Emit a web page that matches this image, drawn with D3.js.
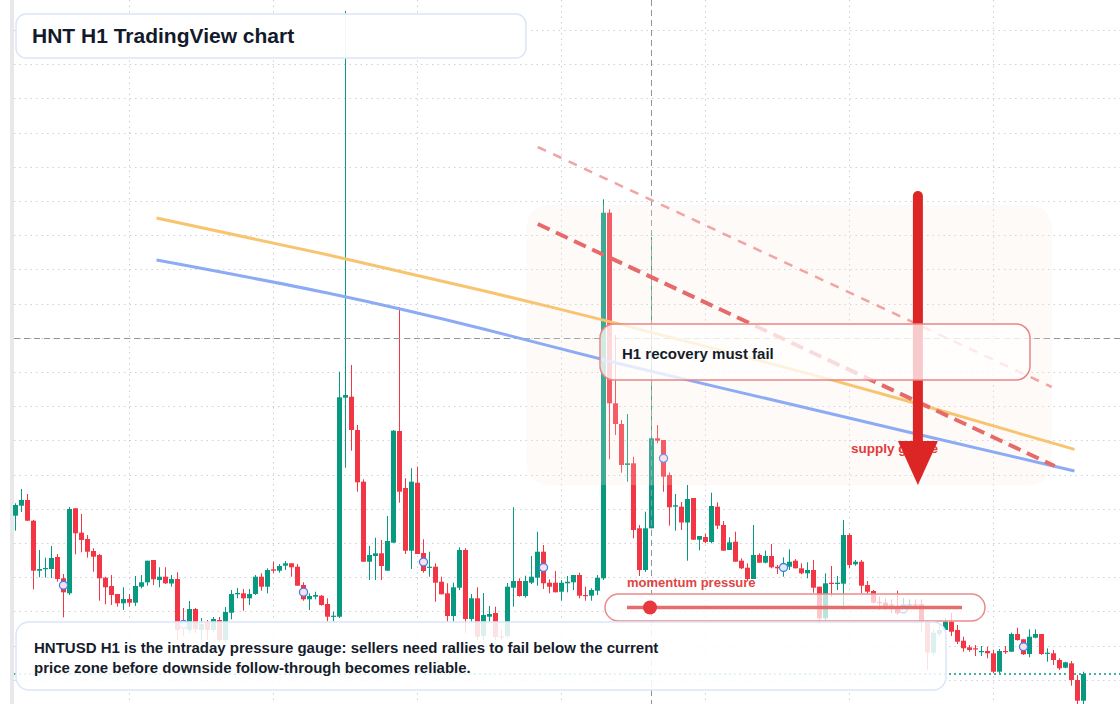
<!DOCTYPE html>
<html><head><meta charset="utf-8">
<script src="https://cdn.jsdelivr.net/npm/d3@7"></script>
<style>html,body{margin:0;padding:0;background:#fff;overflow:hidden}svg{display:block;font-family:"Liberation Sans",Arial,Helvetica,sans-serif}</style>
</head><body><svg id="chart" width="1120" height="704"></svg>
<script>
// ---- HNTUSD H1 candles ----
const opens = [1.6883,1.6983,1.704,1.6833,1.6333,1.635,1.635,1.647,1.6257,1.6107,1.6957,1.6713,1.665,1.653,1.649,1.6263,1.618,1.610,1.6007,1.605,
1.6013,1.6173,1.6217,1.644,1.624,1.6273,1.6205,1.625,1.583,1.574,1.595,1.574,1.582,1.574,1.584,1.564,1.5913,1.6097,1.6107,1.6057,
1.610,1.6273,1.6173,1.6347,1.6333,1.6383,1.6407,1.6373,1.619,1.6047,1.6073,1.6083,1.600,1.5873,1.5873,1.8063,1.8073,1.774,1.7223,1.6423,
1.648,1.6507,1.6333,1.6613,1.773,1.716,1.6533,1.7213,1.651,1.6363,1.6373,1.6223,1.6107,1.588,1.6163,1.654,1.585,1.6057,1.568,1.5873,
1.591,1.5677,1.568,1.6163,1.623,1.608,1.6213,1.6263,1.6523,1.6213,1.6213,1.6123,1.6207,1.6217,1.629,1.609,1.6083,1.6133,1.6257,1.9913,
1.8007,1.780,1.739,1.7407,1.6757,1.634,1.6757,1.7657,1.764,1.729,1.6973,1.6973,1.6815,1.706,1.6643,1.667,1.662,1.6973,1.679,1.654,
1.6623,1.6433,1.6363,1.625,1.649,1.6413,1.648,1.6373,1.633,1.6373,1.6433,1.6357,1.6307,1.634,1.6173,1.5857,1.6213,1.620,1.6203,1.669,
1.6397,1.6423,1.619,1.613,1.602,1.6013,1.5995,1.5973,1.592,1.5987,1.5997,1.5997,1.5823,1.5513,1.570,1.574,1.5823,1.574,1.5633,1.5567,
1.5557,1.552,1.553,1.5507,1.5323,1.553,1.5523,1.570,1.5647,1.550,1.5663,1.570,1.5503,1.5507,1.544,1.5363,1.5407,1.524,1.5033];
const highs = [1.7007,1.715,1.710,1.684,1.654,1.6463,1.658,1.650,1.630,1.697,1.696,1.690,1.669,1.6557,1.650,1.6273,1.629,1.610,1.6167,1.610,
1.628,1.629,1.6433,1.644,1.6367,1.6367,1.629,1.6317,1.596,1.603,1.596,1.586,1.584,1.587,1.587,1.597,1.614,1.616,1.615,1.615,
1.629,1.6307,1.6357,1.6423,1.640,1.643,1.6407,1.640,1.6217,1.6107,1.6123,1.609,1.6057,1.5923,1.8323,2.193,1.839,1.779,1.7247,1.658,
1.6663,1.664,1.688,1.774,1.8967,1.7257,1.7357,1.7373,1.6647,1.6523,1.6407,1.6273,1.6207,1.6213,1.6567,1.6557,1.610,1.6167,1.611,1.598,
1.5973,1.574,1.621,1.6967,1.6257,1.6283,1.648,1.6723,1.659,1.6247,1.633,1.624,1.628,1.629,1.6313,1.6173,1.6157,1.629,2.0047,1.9947,
1.869,1.784,1.790,1.7473,1.679,1.6923,1.967,1.779,1.764,1.7315,1.710,1.702,1.719,1.706,1.668,1.6705,1.7113,1.7017,1.683,1.6667,
1.6723,1.6457,1.6407,1.679,1.6507,1.6533,1.660,1.639,1.6467,1.6547,1.645,1.6407,1.6417,1.644,1.6173,1.6307,1.638,1.628,1.684,1.6707,
1.644,1.644,1.623,1.614,1.6073,1.6057,1.6047,1.6133,1.606,1.6047,1.6047,1.6047,1.584,1.5747,1.581,1.5857,1.591,1.579,1.5673,1.559,
1.559,1.558,1.5573,1.554,1.555,1.558,1.5713,1.5763,1.5647,1.5747,1.5747,1.570,1.5557,1.554,1.5457,1.5423,1.543,1.529,1.5323];
const lows = [1.6733,1.692,1.683,1.6147,1.6267,1.6263,1.626,1.6223,1.5867,1.609,1.6497,1.6517,1.6463,1.6323,1.6033,1.5997,1.599,1.5973,1.594,1.5973,
1.598,1.6157,1.6183,1.619,1.6167,1.620,1.6173,1.564,1.568,1.571,1.571,1.564,1.564,1.572,1.562,1.562,1.5847,1.6057,1.5933,1.599,
1.609,1.6133,1.6107,1.6307,1.6313,1.634,1.6273,1.6183,1.6033,1.594,1.6047,1.5983,1.5823,1.5823,1.586,1.7363,1.7533,1.7123,1.6423,1.624,
1.624,1.624,1.6333,1.6613,1.7013,1.650,1.635,1.650,1.6313,1.6273,1.6023,1.6097,1.5823,1.5823,1.614,1.5707,1.5823,1.564,1.564,1.5823,
1.564,1.564,1.566,1.5973,1.6073,1.6063,1.620,1.6183,1.615,1.6107,1.6117,1.6033,1.6117,1.614,1.6057,1.6033,1.6033,1.609,1.624,1.7447,
1.769,1.7313,1.7223,1.6657,1.628,1.632,1.6757,1.7607,1.7123,1.6783,1.6733,1.674,1.6433,1.664,1.6537,1.6607,1.6607,1.675,1.6533,1.654,
1.6423,1.635,1.6233,1.625,1.6413,1.6407,1.6357,1.630,1.6273,1.634,1.6357,1.6297,1.6257,1.6113,1.5797,1.584,1.6073,1.614,1.594,1.6357,
1.6383,1.6107,1.6107,1.6007,1.594,1.594,1.5907,1.589,1.5907,1.5957,1.5957,1.5723,1.534,1.549,1.568,1.572,1.568,1.560,1.5523,1.5523,
1.548,1.548,1.5457,1.5307,1.5307,1.550,1.5523,1.5633,1.549,1.5467,1.5657,1.549,1.5423,1.539,1.534,1.5357,1.5183,1.500,1.500];
const closes = [1.699,1.704,1.6833,1.6333,1.635,1.636,1.646,1.625,1.6117,1.695,1.6707,1.664,1.6523,1.6473,1.6257,1.6167,1.609,1.6007,1.605,1.6013,
1.618,1.6217,1.6433,1.6247,1.6273,1.6207,1.625,1.574,1.576,1.595,1.575,1.580,1.574,1.585,1.564,1.592,1.610,1.611,1.6057,1.610,
1.6273,1.6173,1.634,1.6333,1.638,1.6407,1.6367,1.6183,1.6047,1.608,1.609,1.599,1.5873,1.5883,1.8067,1.809,1.774,1.7217,1.6423,1.649,
1.6507,1.638,1.663,1.7733,1.7123,1.6533,1.7223,1.650,1.633,1.6373,1.6213,1.6097,1.588,1.6167,1.654,1.585,1.6057,1.5673,1.589,1.590,
1.567,1.567,1.6173,1.623,1.608,1.623,1.6273,1.6523,1.6207,1.6173,1.6117,1.6213,1.6223,1.629,1.6083,1.608,1.614,1.6263,1.9913,1.8007,
1.780,1.739,1.7407,1.674,1.634,1.6757,1.7657,1.7633,1.7273,1.6967,1.6987,1.6815,1.705,1.6643,1.668,1.662,1.698,1.6783,1.6533,1.6617,
1.6423,1.6357,1.625,1.649,1.6413,1.648,1.6367,1.6357,1.640,1.6423,1.6357,1.6307,1.634,1.6163,1.5857,1.6207,1.620,1.6213,1.669,1.639,
1.6423,1.6183,1.6123,1.6013,1.601,1.598,1.5985,1.5907,1.598,1.5997,1.5987,1.5823,1.5513,1.5713,1.574,1.5823,1.5723,1.5623,1.5557,1.554,
1.5547,1.553,1.5507,1.5323,1.553,1.552,1.570,1.564,1.5497,1.5673,1.570,1.550,1.5513,1.544,1.5357,1.5417,1.524,1.5033,1.530];

// candles that carry a hollow event marker
const markerIdx = [8, 28, 48, 68, 88, 108, 128, 148, 168];

// overlay lines (candle index, price)
const orangeIdx = [23.5, 52, 78, 100, 125, 150, 176.5];
const orangeVal = [1.986, 1.9493, 1.9133, 1.8809, 1.8419, 1.8007, 1.7546];
const blueIdx = [23.5, 52, 78, 100, 125, 150, 176.5];
const blueVal = [1.944, 1.911, 1.875, 1.8413, 1.8057, 1.7703, 1.733];

// dashed resistance lines: [idx0, price0, idx1, price1]
const resistanceThick = [87.05, 1.980, 173.2, 1.738];
const resistanceThin = [87.05, 2.057, 172.7, 1.817];

// supply zone [idx0, idx1, priceTop, priceBottom]
const supplyZone = [85.2, 172.7, 1.999, 1.719];
// arrow [idx, priceFrom, priceTo]
const arrowPath = [150.4, 2.008, 1.719];

const crossIdx = 106, crossPrice = 1.866;
const gridTop = 2.174, gridStep = 0.0342, gridCount = 20;
const dayStarts = [19, 43, 67, 91, 115, 139, 163];

const UP = "#089981", DOWN = "#f23645";
const W = 1120, H = 704;
const svg = d3.select("#chart");
const x = d3.scaleLinear().domain([0, 178]).range([15.5, 1083.5]);
const y = d3.scaleLinear().domain([1.5, 2.204]).range([704, 0]);
const candles = opens.map((o, i) => ({i, o, h: highs[i], l: lows[i], c: closes[i]}));

// left strip
svg.append("rect").attr("x", 10).attr("y", 0).attr("width", 4).attr("height", H).attr("fill", "#e8e8ea");

// grid
const g = svg.append("g");
g.selectAll("line.h").data(d3.range(gridCount).map(k => gridTop - k * gridStep)).join("line")
  .attr("x1", 14).attr("x2", W).attr("y1", d => Math.round(y(d)) + 0.5).attr("y2", d => Math.round(y(d)) + 0.5)
  .attr("stroke", "#cdd1d6").attr("stroke-dasharray", "1.5 4");
g.selectAll("line.v").data(dayStarts).join("line")
  .attr("x1", d => x(d)).attr("x2", d => x(d)).attr("y1", 0).attr("y2", H)
  .attr("stroke", "#cdd1d6").attr("stroke-dasharray", "1.5 4");

// last price line
const last = closes[closes.length - 1];
svg.append("line").attr("x1", 14).attr("x2", W).attr("y1", y(last)).attr("y2", y(last))
  .attr("stroke", UP).attr("stroke-width", 1.5).attr("stroke-dasharray", "2 3");

// candles
const cg = svg.append("g");
cg.selectAll("line").data(candles).join("line")
  .attr("x1", d => x(d.i)).attr("x2", d => x(d.i))
  .attr("y1", d => y(d.h)).attr("y2", d => y(d.l))
  .attr("stroke", d => d.c >= d.o ? UP : DOWN).attr("stroke-width", 1);
cg.selectAll("rect").data(candles).join("rect")
  .attr("x", d => x(d.i) - 2.5).attr("width", 5)
  .attr("y", d => y(Math.max(d.o, d.c)))
  .attr("height", d => Math.max(1.2, Math.abs(y(d.o) - y(d.c))))
  .attr("fill", d => d.c >= d.o ? UP : DOWN);

// markers
svg.selectAll("circle.mk").data(markerIdx).join("circle")
  .attr("cx", d => x(d)).attr("cy", d => y((opens[d] + closes[d]) / 2)).attr("r", 4)
  .attr("fill", "#fff").attr("fill-opacity", 0.85).attr("stroke", "#4a7af2").attr("stroke-width", 1.4);

// crosshair
svg.append("line").attr("x1", x(crossIdx)).attr("x2", x(crossIdx)).attr("y1", 0).attr("y2", H)
  .attr("stroke", "#8f959c").attr("stroke-dasharray", "6 4");
svg.append("line").attr("x1", 14).attr("x2", W).attr("y1", Math.round(y(crossPrice)) + 0.5).attr("y2", Math.round(y(crossPrice)) + 0.5)
  .attr("stroke", "#8f959c").attr("stroke-dasharray", "6 4");

// supply zone
svg.append("rect").attr("x", x(supplyZone[0])).attr("y", y(supplyZone[2]))
  .attr("width", x(supplyZone[1]) - x(supplyZone[0])).attr("height", y(supplyZone[3]) - y(supplyZone[2]))
  .attr("rx", 22).attr("fill", "#f7e6d9").attr("fill-opacity", 0.22);

// MA lines
const line = d3.line().x(d => x(d[0])).y(d => y(d[1])).curve(d3.curveNatural);
svg.append("path").attr("d", line(orangeIdx.map((v, k) => [v, orangeVal[k]])))
  .attr("fill", "none").attr("stroke", "#f8c470").attr("stroke-width", 3);
svg.append("path").attr("d", line(blueIdx.map((v, k) => [v, blueVal[k]])))
  .attr("fill", "none").attr("stroke", "#8dabf5").attr("stroke-width", 3);

// dashed resistance
svg.append("line").attr("x1", x(resistanceThin[0])).attr("y1", y(resistanceThin[1]))
  .attr("x2", x(resistanceThin[2])).attr("y2", y(resistanceThin[3]))
  .attr("stroke", "#f2a3a3").attr("stroke-width", 2.5).attr("stroke-dasharray", "9 8");
svg.append("line").attr("x1", x(resistanceThick[0])).attr("y1", y(resistanceThick[1]))
  .attr("x2", x(resistanceThick[2])).attr("y2", y(resistanceThick[3]))
  .attr("stroke", "#e66a6a").attr("stroke-width", 4).attr("stroke-dasharray", "13 7");

// supply label
svg.append("text").attr("x", 851).attr("y", 453).attr("fill", "#e23b3b")
  .attr("font-size", 13.5).attr("font-weight", "bold").text("supply gauge");

// arrow
const ax = x(arrowPath[0]);
svg.append("line").attr("x1", ax).attr("x2", ax).attr("y1", y(arrowPath[1])).attr("y2", y(arrowPath[2]) - 40)
  .attr("stroke", "#dc2626").attr("stroke-width", 10).attr("stroke-linecap", "round");
svg.append("path").attr("d", `M${ax - 20},${y(arrowPath[2]) - 44}L${ax + 20},${y(arrowPath[2]) - 44}L${ax},${y(arrowPath[2])}Z`)
  .attr("fill", "#dc2626");

// H1 recovery box
svg.append("rect").attr("x", 600).attr("y", 324).attr("width", 430).attr("height", 56).attr("rx", 14)
  .attr("fill", "#fff").attr("fill-opacity", 0.76).attr("stroke", "#e98585").attr("stroke-width", 1.5);
svg.append("text").attr("x", 622).attr("y", 359).attr("fill", "#151c2b")
  .attr("font-size", 15).attr("font-weight", "bold").text("H1 recovery must fail");

// momentum pressure
svg.append("text").attr("x", 627).attr("y", 587).attr("fill", "#e04545")
  .attr("font-size", 13).attr("font-weight", "bold").text("momentum pressure");
svg.append("rect").attr("x", 605).attr("y", 594).attr("width", 380).attr("height", 27).attr("rx", 13.5)
  .attr("fill", "#fff").attr("fill-opacity", 0.72).attr("stroke", "#ea8a8a").attr("stroke-width", 1.5);
svg.append("line").attr("x1", 627).attr("x2", 962).attr("y1", 607.5).attr("y2", 607.5)
  .attr("stroke", "#e46e6e").attr("stroke-width", 3.5);
svg.append("circle").attr("cx", 650).attr("cy", 607.5).attr("r", 7).attr("fill", "#e8383d");

// bottom note
svg.append("rect").attr("x", 16).attr("y", 622).attr("width", 930).attr("height", 68).attr("rx", 13)
  .attr("fill", "#fff").attr("fill-opacity", 0.86).attr("stroke", "#dbe6f7").attr("stroke-width", 1.5);
const note = svg.append("text").attr("fill", "#151c2b").attr("font-size", 15).attr("font-weight", "bold");
note.append("tspan").attr("x", 34).attr("y", 653).text("HNTUSD H1 is the intraday pressure gauge: sellers need rallies to fail below the current");
note.append("tspan").attr("x", 34).attr("y", 673).text("price zone before downside follow-through becomes reliable.");

// title
svg.append("rect").attr("x", 16).attr("y", 14).attr("width", 510).attr("height", 44).attr("rx", 10)
  .attr("fill", "#fff").attr("fill-opacity", 0.95).attr("stroke", "#dbe6f7").attr("stroke-width", 1.5);
svg.append("text").attr("x", 32).attr("y", 43).attr("fill", "#131a2a")
  .attr("font-size", 21).attr("font-weight", "bold").text("HNT H1 TradingView chart");
</script></body></html>
